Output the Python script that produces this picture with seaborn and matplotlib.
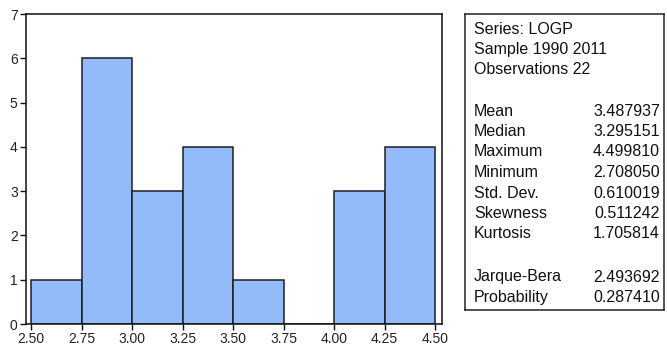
import matplotlib
matplotlib.use("Agg")
import matplotlib.pyplot as plt
import seaborn as sns
import numpy as np
import pandas as pd

# Histogram of LOGP, 0.25-wide bins
bin_edges = [2.50, 2.75, 3.00, 3.25, 3.50, 3.75, 4.00, 4.25, 4.50]
bin_counts = [1, 6, 3, 4, 1, 0, 3, 4]
x_tick_labels = ["2.50", "2.75", "3.00", "3.25", "3.50", "3.75", "4.00", "4.25", "4.50"]

header_lines = ["Series: LOGP", "Sample 1990 2011", "Observations 22"]
stat_names = ["Mean", "Median", "Maximum", "Minimum", "Std. Dev.", "Skewness", "Kurtosis"]
stat_values = ["3.487937", "3.295151", "4.499810", "2.708050", "0.610019", "0.511242", "1.705814"]
test_names = ["Jarque-Bera", "Probability"]
test_values = ["2.493692", "0.287410"]

sns.set_style("white")
plt.rcParams["font.family"] = ["Liberation Sans", "DejaVu Sans"]

W, H = 667, 347
fig = plt.figure(figsize=(W / 100, H / 100), dpi=100)

# histogram axes
ax = fig.add_axes([26 / W, 1 - 324 / H, (441.5 - 26) / W, (324 - 14) / H])
centers = [(a + b) / 2 for a, b in zip(bin_edges[:-1], bin_edges[1:])]
df = pd.DataFrame({"x": centers, "w": bin_counts})
sns.histplot(data=df, x="x", weights="w", bins=bin_edges, ax=ax,
             color="#94bbf9", alpha=1.0, edgecolor="#1c1c28", linewidth=1.1)
ax.set_xlim(2.475, 4.532)
ax.set_ylim(0, 7)
ax.set_xticks(bin_edges)
ax.set_xticklabels(x_tick_labels)
ax.set_yticks(range(0, 8))
ax.set_xlabel("")
ax.set_ylabel("")
for s in ax.spines.values():
    s.set_color("#111111")
    s.set_linewidth(1.1)
ax.tick_params(axis="both", which="both", direction="out", length=4, width=1,
               color="#111111", labelsize=10, labelcolor="#222222", pad=2,
               left=True, bottom=True)

# statistics box
bx = fig.add_axes([465 / W, 1 - 310 / H, (664 - 465) / W, (310 - 14) / H])
bx.set_xlim(465, 664)
bx.set_ylim(310, 14)
bx.set_xticks([])
bx.set_yticks([])
for s in bx.spines.values():
    s.set_color("#222222")
    s.set_linewidth(1.1)

fs = 11.5
y = 30
for line in header_lines:
    bx.text(474, y, line, fontsize=fs, va="center", ha="left", color="#111111")
    y += 19.5
y = 111
for name, val in zip(stat_names, stat_values):
    bx.text(474, y, name, fontsize=fs, va="center", ha="left", color="#111111")
    bx.text(660, y, val, fontsize=fs, va="center", ha="right", color="#111111")
    y += 20.5
y = 277
for name, val in zip(test_names, test_values):
    bx.text(474, y, name, fontsize=fs, va="center", ha="left", color="#111111")
    bx.text(660, y, val, fontsize=fs, va="center", ha="right", color="#111111")
    y += 20.5

fig.savefig("out.png", dpi=100)
